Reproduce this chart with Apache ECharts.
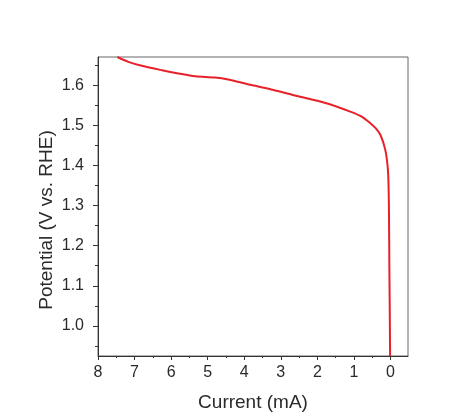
<!DOCTYPE html>
<html><head><meta charset="utf-8">
<script src="https://cdn.jsdelivr.net/npm/echarts@6/dist/echarts.min.js"></script>
<style>html,body{margin:0;padding:0;background:#fff}#c{width:451px;height:420px}</style>
</head><body><div id="c"></div>
<script>
const current = [7.47,7.17,6.8,6.25,5.8,5.34,4.8,4.44,3.8,3.2,2.47,1.8,1.1,0.8,0.55,0.4,0.27,0.14,0.07,0.05,0.04,0.03,0.02,0.01];
const potential = [1.670,1.658,1.648,1.637,1.629,1.622,1.619,1.614,1.600,1.588,1.571,1.556,1.534,1.522,1.505,1.492,1.475,1.438,1.39,1.34,1.28,1.15,1.05,0.925];
const xMajor = [0,1,2,3,4,5,6,7,8];
const xMinor = [0.5,1.5,2.5,3.5,4.5,5.5,6.5,7.5];
const yMajor = [1.0,1.1,1.2,1.3,1.4,1.5,1.6];
const yMinor = [0.95,1.05,1.15,1.25,1.35,1.45,1.55,1.65];
const font = 'Liberation Sans, Arial, sans-serif';
const txt = '#2a2a2a';
const axisCol = '#333';
const chart = echarts.init(document.getElementById('c'));
const common = {min:-0.48,max:8,inverse:true,type:'value'};
const ycommon = {min:0.925,max:1.67,type:'value'};
chart.setOption({
  animation:false,
  grid:{left:98,right:43,top:57,bottom:64,show:true,borderColor:'#666',borderWidth:1,containLabel:false},
  xAxis:[
    Object.assign({},common,{
      name:'Current (mA)',nameLocation:'middle',nameGap:37,
      nameTextStyle:{fontFamily:font,fontSize:19,color:txt},
      axisLine:{show:true,onZero:false,lineStyle:{color:axisCol,width:1}},
      axisTick:{show:true,length:4,inside:false,customValues:xMajor,lineStyle:{color:axisCol}},
      axisLabel:{customValues:xMajor,fontFamily:font,fontSize:16,color:txt,margin:9},
      splitLine:{show:false}
    }),
    Object.assign({},common,{
      position:'bottom',
      axisLine:{show:false,onZero:false},
      axisTick:{show:true,length:2,inside:false,customValues:xMinor,lineStyle:{color:axisCol}},
      axisLabel:{show:false},
      splitLine:{show:false}
    })
  ],
  yAxis:[
    Object.assign({},ycommon,{
      name:'Potential (V vs. RHE)',nameLocation:'middle',nameGap:42,nameMoveOverlap:false,
      nameTextStyle:{fontFamily:font,fontSize:19,color:txt,padding:[0,27,0,0]},
      axisLine:{show:true,onZero:false,lineStyle:{color:axisCol,width:1}},
      axisTick:{show:true,length:5,inside:false,customValues:yMajor,lineStyle:{color:axisCol}},
      axisLabel:{customValues:yMajor,fontFamily:font,fontSize:16,color:txt,margin:14,
        formatter:v=>v.toFixed(1)},
      splitLine:{show:false}
    }),
    Object.assign({},ycommon,{
      position:'left',
      axisLine:{show:false,onZero:false},
      axisTick:{show:true,length:3,inside:false,customValues:yMinor,lineStyle:{color:axisCol}},
      axisLabel:{show:false},
      splitLine:{show:false}
    })
  ],
  series:[{
    type:'line',xAxisIndex:0,yAxisIndex:0,
    data:current.map((c,i)=>[c,potential[i]]),
    smooth:0.3,showSymbol:false,
    lineStyle:{color:'#e8202a',width:2},
    clip:true
  }]
});
</script></body></html>
